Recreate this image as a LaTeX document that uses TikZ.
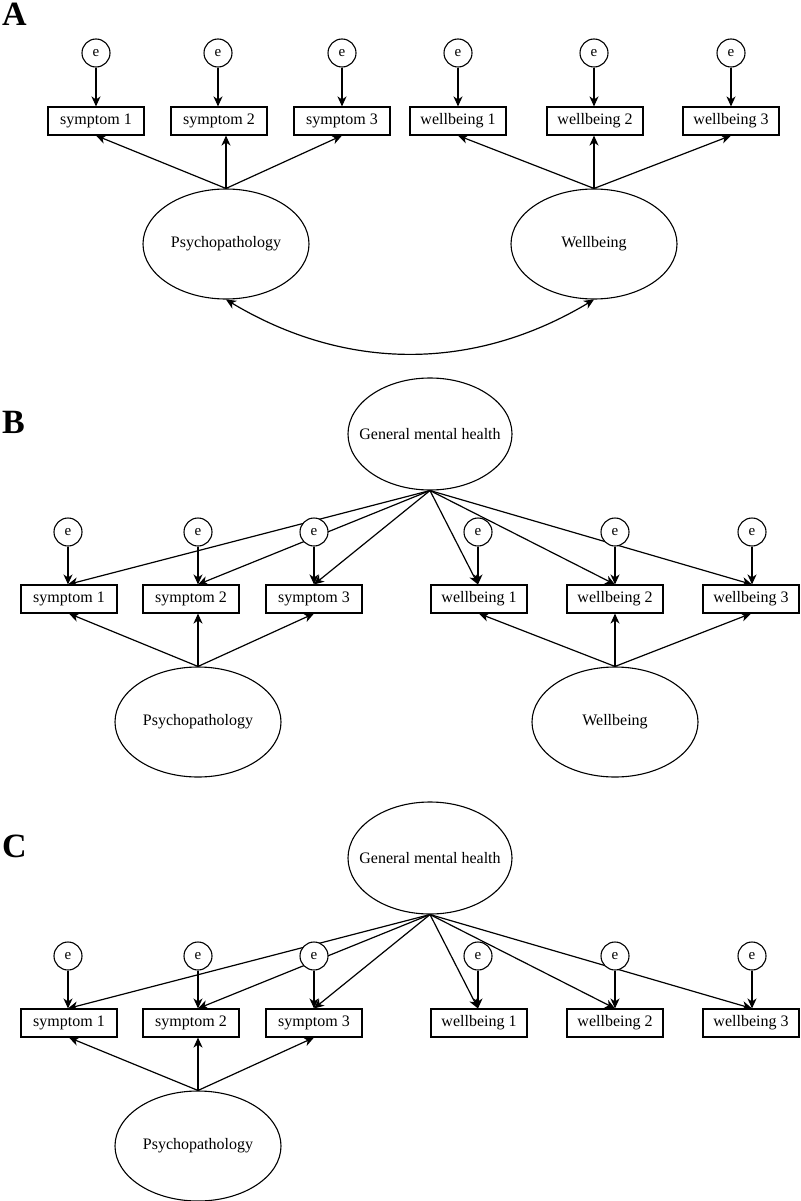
\documentclass[tikz,border=0pt]{standalone}
\usepackage{fontspec}
\setmainfont{Liberation Serif}
\usetikzlibrary{shapes.geometric,arrows.meta,backgrounds}

\tikzset{
  obs/.style={draw, fill=white, line width=1.1pt, minimum width=96pt, minimum height=28pt, inner sep=0pt, font=\fontsize{16}{19}\selectfont},
  err/.style={draw, circle, fill=white, line width=1.1pt, minimum size=28pt, inner sep=0pt, font=\fontsize{15}{18}\selectfont},
  lat/.style={draw, ellipse, fill=white, line width=1.1pt, minimum width=166pt, minimum height=110pt, inner sep=0pt, font=\fontsize{16}{19}\selectfont},
  arr/.style={-{Stealth[length=10pt,width=9pt,inset=3pt]}, line width=1.2pt},
  cov/.style={{Stealth[length=10pt,width=9pt,inset=3pt]}-{Stealth[length=10pt,width=9pt,inset=3pt]}, line width=1.2pt},
  panel/.style={anchor=west, inner sep=0pt, font=\fontsize{34}{40}\selectfont\bfseries}
}

\begin{document}
\begin{tikzpicture}[x=1pt,y=-1pt]
\useasboundingbox (0,0) rectangle (800,1201);

% A
\node[panel] (labA) at (2,14) {A};
\node[err] (eA1) at (96,53) {e};
\node[err] (eA2) at (218,53) {e};
\node[err] (eA3) at (342,53) {e};
\node[err] (eA4) at (458,53) {e};
\node[err] (eA5) at (594,53) {e};
\node[err] (eA6) at (731,53) {e};
\node[obs] (sA1) at (96,121) {symptom 1};
\node[obs] (sA2) at (219,121) {symptom 2};
\node[obs] (sA3) at (342,121) {symptom 3};
\node[obs] (wA1) at (458,121) {wellbeing 1};
\node[obs] (wA2) at (595,121) {wellbeing 2};
\node[obs] (wA3) at (731,121) {wellbeing 3};
\node[lat] (psyA) at (226,244) {Psychopathology};
\node[lat] (wbA) at (594,244) {Wellbeing};

% B
\node[panel] (labB) at (2,422) {B};
\node[lat, minimum width=164pt, minimum height=112pt] (gB) at (430,434) {\makebox[0pt]{General mental health}};
\node[err] (eB1) at (68,532) {e};
\node[err] (eB2) at (198,532) {e};
\node[err] (eB3) at (314,532) {e};
\node[err] (eB4) at (478,532) {e};
\node[err] (eB5) at (615,532) {e};
\node[err] (eB6) at (752,532) {e};
\node[obs] (sB1) at (69,599) {symptom 1};
\node[obs] (sB2) at (191,599) {symptom 2};
\node[obs] (sB3) at (314,599) {symptom 3};
\node[obs] (wB1) at (479,599) {wellbeing 1};
\node[obs] (wB2) at (615,599) {wellbeing 2};
\node[obs] (wB3) at (751,599) {wellbeing 3};
\node[lat] (psyB) at (198,722) {Psychopathology};
\node[lat] (wbB) at (615,722) {Wellbeing};

% C
\node[panel] (labC) at (2,846) {C};
\node[lat, minimum width=164pt, minimum height=112pt] (gC) at (430,858) {\makebox[0pt]{General mental health}};
\node[err] (eC1) at (68,956) {e};
\node[err] (eC2) at (198,956) {e};
\node[err] (eC3) at (314,956) {e};
\node[err] (eC4) at (478,956) {e};
\node[err] (eC5) at (615,956) {e};
\node[err] (eC6) at (752,956) {e};
\node[obs] (sC1) at (69,1023) {symptom 1};
\node[obs] (sC2) at (191,1023) {symptom 2};
\node[obs] (sC3) at (314,1023) {symptom 3};
\node[obs] (wC1) at (479,1023) {wellbeing 1};
\node[obs] (wC2) at (615,1023) {wellbeing 2};
\node[obs] (wC3) at (751,1023) {wellbeing 3};
\node[lat] (psyC) at (198,1146) {Psychopathology};

\begin{scope}[on background layer]
% A
\draw[arr] (eA1) -- (eA1 |- sA1.north);
\draw[arr] (eA2) -- (eA2 |- sA2.north);
\draw[arr] (eA3) -- (eA3 |- sA3.north);
\draw[arr] (eA4) -- (eA4 |- wA1.north);
\draw[arr] (eA5) -- (eA5 |- wA2.north);
\draw[arr] (eA6) -- (eA6 |- wA3.north);
\draw[arr] (psyA.north) -- (sA1.south);
\draw[arr] (psyA.north) -- (psyA.north |- sA2.south);
\draw[arr] (psyA.north) -- (sA3.south);
\draw[arr] (wbA.north) -- (wA1.south);
\draw[arr] (wbA.north) -- (wbA.north |- wA2.south);
\draw[arr] (wbA.north) -- (wA3.south);
\draw[cov] (psyA.south) .. controls +(120,72) and +(-120,72) .. (wbA.south);
% B
\draw[arr] (eB1) -- (eB1 |- sB1.north);
\draw[arr] (eB2) -- (eB2 |- sB2.north);
\draw[arr] (eB3) -- (eB3 |- sB3.north);
\draw[arr] (eB4) -- (eB4 |- wB1.north);
\draw[arr] (eB5) -- (eB5 |- wB2.north);
\draw[arr] (eB6) -- (eB6 |- wB3.north);
\draw[arr] (gB.south) -- (eB1 |- sB1.north);
\draw[arr] (gB.south) -- (eB2 |- sB2.north);
\draw[arr] (gB.south) -- (eB3 |- sB3.north);
\draw[arr] (gB.south) -- (eB4 |- wB1.north);
\draw[arr] (gB.south) -- (eB5 |- wB2.north);
\draw[arr] (gB.south) -- (eB6 |- wB3.north);
\draw[arr] (psyB.north) -- (sB1.south);
\draw[arr] (psyB.north) -- (psyB.north |- sB2.south);
\draw[arr] (psyB.north) -- (sB3.south);
\draw[arr] (wbB.north) -- (wB1.south);
\draw[arr] (wbB.north) -- (wbB.north |- wB2.south);
\draw[arr] (wbB.north) -- (wB3.south);
% C
\draw[arr] (eC1) -- (eC1 |- sC1.north);
\draw[arr] (eC2) -- (eC2 |- sC2.north);
\draw[arr] (eC3) -- (eC3 |- sC3.north);
\draw[arr] (eC4) -- (eC4 |- wC1.north);
\draw[arr] (eC5) -- (eC5 |- wC2.north);
\draw[arr] (eC6) -- (eC6 |- wC3.north);
\draw[arr] (gC.south) -- (eC1 |- sC1.north);
\draw[arr] (gC.south) -- (eC2 |- sC2.north);
\draw[arr] (gC.south) -- (eC3 |- sC3.north);
\draw[arr] (gC.south) -- (eC4 |- wC1.north);
\draw[arr] (gC.south) -- (eC5 |- wC2.north);
\draw[arr] (gC.south) -- (eC6 |- wC3.north);
\draw[arr] (psyC.north) -- (sC1.south);
\draw[arr] (psyC.north) -- (psyC.north |- sC2.south);
\draw[arr] (psyC.north) -- (sC3.south);
\end{scope}
\end{tikzpicture}
\end{document}
